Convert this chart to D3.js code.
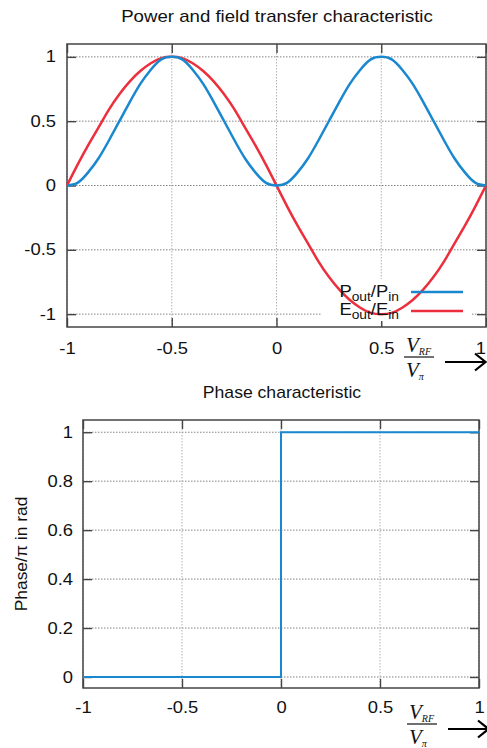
<!DOCTYPE html>
<html>
<head>
<meta charset="utf-8">
<script src="https://cdn.jsdelivr.net/npm/d3@7"></script>
<style>
  body { margin: 0; background: #fff; }
  text { font-family: "Liberation Sans", Arial, Helvetica, sans-serif; }
</style>
</head>
<body>
<div id="wrapper"></div>
<script>
// Data
const xValues = [-1, -0.95, -0.9, -0.85, -0.8, -0.75, -0.7, -0.65, -0.6, -0.55, -0.5,
  -0.45, -0.4, -0.35, -0.3, -0.25, -0.2, -0.15, -0.1, -0.05, 0,
  0.05, 0.1, 0.15, 0.2, 0.25, 0.3, 0.35, 0.4, 0.45, 0.5,
  0.55, 0.6, 0.65, 0.7, 0.75, 0.8, 0.85, 0.9, 0.95, 1]
const powerValues = [0, 0.02, 0.1, 0.21, 0.35, 0.5, 0.65, 0.79, 0.9, 0.98, 1,
  0.98, 0.9, 0.79, 0.65, 0.5, 0.35, 0.21, 0.1, 0.02, 0,
  0.02, 0.1, 0.21, 0.35, 0.5, 0.65, 0.79, 0.9, 0.98, 1,
  0.98, 0.9, 0.79, 0.65, 0.5, 0.35, 0.21, 0.1, 0.02, 0]
const fieldValues = [0, 0.16, 0.31, 0.45, 0.59, 0.71, 0.81, 0.89, 0.95, 0.99, 1,
  0.99, 0.95, 0.89, 0.81, 0.71, 0.59, 0.45, 0.31, 0.16, 0,
  -0.16, -0.31, -0.45, -0.59, -0.71, -0.81, -0.89, -0.95, -0.99, -1,
  -0.99, -0.95, -0.89, -0.81, -0.71, -0.59, -0.45, -0.31, -0.16, 0]
const phaseX = [-1, 0, 0, 1]
const phaseY = [0, 0, 1, 1]

const xTicks = [-1, -0.5, 0, 0.5, 1]
const topYTicks = [-1, -0.5, 0, 0.5, 1]
const bottomYTicks = [0, 0.2, 0.4, 0.6, 0.8, 1]

const blue = "#1a88cf"
const red = "#ec2f3d"
const stretch = 1.15   // text in the picture is a bit wider than plain Arial

const svg = d3.select("#wrapper")
  .append("svg")
  .attr("width", 487)
  .attr("height", 748)

function drawPanel(opts) {
  const { left, right, top, bottom, xDomain, yDomain, yTicks, xPad, yPad, lastShift } = opts
  const xScale = d3.scaleLinear().domain(xDomain).range([left, right])
  const yScale = d3.scaleLinear().domain(yDomain).range([bottom, top])
  const g = svg.append("g")

  // grid
  g.append("g").selectAll("line")
    .data(yTicks)
    .join("line")
    .attr("x1", left).attr("x2", right)
    .attr("y1", d => yScale(d)).attr("y2", d => yScale(d))
    .attr("stroke", "#777")
    .attr("stroke-width", 0.9)
    .attr("stroke-dasharray", "1.5,1.5")
  g.append("g").selectAll("line")
    .data(xTicks)
    .join("line")
    .attr("y1", top).attr("y2", bottom)
    .attr("x1", d => xScale(d)).attr("x2", d => xScale(d))
    .attr("stroke", "#aaa")
    .attr("stroke-width", 0.9)
    .attr("stroke-dasharray", "1.5,1.5")

  const fmt = d => String(d)

  // axes
  const xAxis = g.append("g")
    .attr("transform", `translate(0,${bottom})`)
    .call(d3.axisBottom(xScale).tickValues(xTicks).tickSize(-9).tickPadding(xPad)
      .tickFormat(fmt))
  g.append("g")
    .attr("transform", `translate(0,${top})`)
    .call(d3.axisTop(xScale).tickValues(xTicks).tickSize(-9).tickFormat(""))
  g.append("g")
    .attr("transform", `translate(${left},0)`)
    .call(d3.axisLeft(yScale).tickValues(yTicks).tickSize(-9).tickPadding(yPad / stretch)
      .tickFormat(fmt))
  g.append("g")
    .attr("transform", `translate(${right},0)`)
    .call(d3.axisRight(yScale).tickValues(yTicks).tickSize(-9).tickFormat(""))

  g.selectAll(".domain").remove()
  g.selectAll(".tick line").attr("stroke", "#444").attr("stroke-width", 1.4)
  g.selectAll(".tick text")
    .attr("fill", "#111")
    .attr("transform", `scale(${stretch},1)`)
    .style("font-size", "16px")
    .style("font-family", "'Liberation Sans', Arial, sans-serif")

  // keep the last x label inside the page
  if (lastShift) {
    xAxis.selectAll(".tick text")
      .filter(d => d === xTicks[xTicks.length - 1])
      .attr("x", -lastShift)
  }

  // frame
  g.append("rect")
    .attr("x", left).attr("y", top)
    .attr("width", right - left).attr("height", bottom - top)
    .attr("fill", "none")
    .attr("stroke", "#444")
    .attr("stroke-width", 1.5)

  return { g, xScale, yScale }
}

function drawFraction(x, y) {
  const f = svg.append("g").attr("transform", `translate(${x},${y})`)
  const serif = "'Liberation Serif', 'DejaVu Serif', serif"
  const num = f.append("text")
    .attr("x", 2).attr("y", -5)
    .style("font-family", serif)
    .style("font-style", "italic")
    .style("font-size", "21px")
    .attr("fill", "#111")
  num.append("tspan").text("V")
  num.append("tspan").attr("dy", 3).style("font-size", "10px").text("RF")
  f.append("line")
    .attr("x1", 0).attr("x2", 30)
    .attr("stroke", "#111").attr("stroke-width", 1.2)
  const den = f.append("text")
    .attr("x", 2).attr("y", 20)
    .style("font-family", serif)
    .style("font-style", "italic")
    .style("font-size", "21px")
    .attr("fill", "#111")
  den.append("tspan").text("V")
  den.append("tspan").attr("dy", 3).style("font-size", "10px").text("π")
  // arrow
  f.append("line")
    .attr("x1", 41).attr("x2", 81)
    .attr("y1", 5).attr("y2", 5)
    .attr("stroke", "#000").attr("stroke-width", 2.2)
  f.append("path")
    .attr("d", "M71,-3.5 L81.5,5 L71,13.5")
    .attr("fill", "none")
    .attr("stroke", "#000").attr("stroke-width", 2.2)
}

function addText(x, y, str, size, sx) {
  return svg.append("text")
    .attr("transform", `translate(${x},${y}) scale(${sx},1)`)
    .attr("text-anchor", "middle")
    .style("font-size", size + "px")
    .attr("fill", "#111")
    .text(str)
}

// Top panel
const topPanel = drawPanel({
  left: 67, right: 486, top: 44, bottom: 327,
  xDomain: [-1, 1], yDomain: [-1.1, 1.1],
  yTicks: topYTicks, xPad: 16, yPad: 11, lastShift: 5
})

addText(277, 22, "Power and field transfer characteristic", 16, 1.165)

// legend background
topPanel.g.append("rect")
  .attr("x", 322).attr("y", 279)
  .attr("width", 150).attr("height", 42)
  .attr("fill", "#fff")

const line = d3.line()
  .x(d => topPanel.xScale(d[0]))
  .y(d => topPanel.yScale(d[1]))
  .curve(d3.curveNatural)

topPanel.g.append("path")
  .datum(d3.zip(xValues, fieldValues))
  .attr("d", line)
  .attr("fill", "none")
  .attr("stroke", red)
  .attr("stroke-width", 2.5)

topPanel.g.append("path")
  .datum(d3.zip(xValues, powerValues))
  .attr("d", line)
  .attr("fill", "none")
  .attr("stroke", blue)
  .attr("stroke-width", 2.5)

// legend
const legendItems = [
  { base: "P", color: blue, y: 297, ly: 292 },
  { base: "E", color: red, y: 315, ly: 311 },
]
legendItems.forEach(item => {
  const t = topPanel.g.append("text")
    .attr("transform", `translate(399,${item.y}) scale(${stretch},1)`)
    .attr("text-anchor", "end")
    .attr("fill", "#111")
    .style("font-size", "16px")
  t.append("tspan").text(item.base)
  t.append("tspan").attr("dy", 4).style("font-size", "12px").text("out")
  t.append("tspan").attr("dy", -4).text("/" + item.base)
  t.append("tspan").attr("dy", 4).style("font-size", "12px").text("in")
  topPanel.g.append("line")
    .attr("x1", 411).attr("x2", 463)
    .attr("y1", item.ly).attr("y2", item.ly)
    .attr("stroke", item.color)
    .attr("stroke-width", 2.5)
})

drawFraction(404, 357)

// Bottom panel
const bottomPanel = drawPanel({
  left: 83, right: 479, top: 420, bottom: 688,
  xDomain: [-1, 1], yDomain: [-0.045, 1.05],
  yTicks: bottomYTicks, xPad: 14, yPad: 10
})

addText(282, 398, "Phase characteristic", 16, 1.1)

svg.append("text")
  .attr("transform", `translate(27,${(420 + 688) / 2}) rotate(-90) scale(1.09,1)`)
  .attr("text-anchor", "middle")
  .style("font-size", "16px")
  .attr("fill", "#111")
  .text("Phase/π in rad")

const stepLine = d3.line()
  .x(d => bottomPanel.xScale(d[0]))
  .y(d => bottomPanel.yScale(d[1]))

bottomPanel.g.append("path")
  .datum(d3.zip(phaseX, phaseY))
  .attr("d", stepLine)
  .attr("fill", "none")
  .attr("stroke", blue)
  .attr("stroke-width", 2)

drawFraction(407, 724)
</script>
</body>
</html>
